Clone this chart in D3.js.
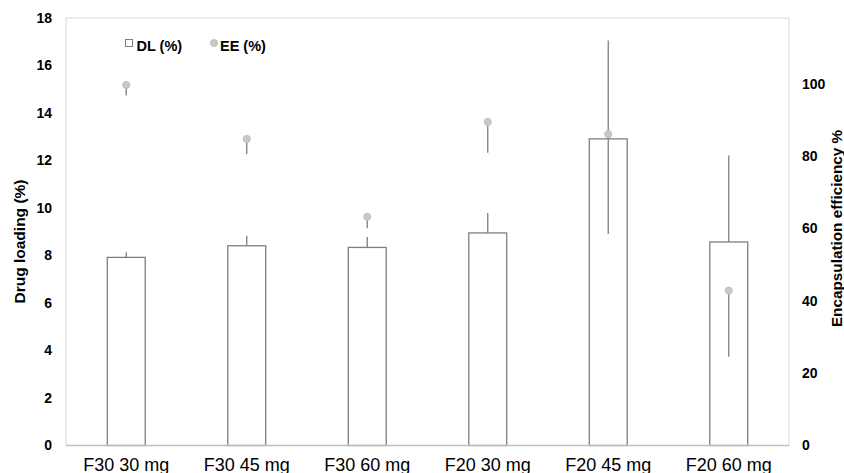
<!DOCTYPE html>
<html>
<head>
<meta charset="utf-8">
<script src="https://cdn.jsdelivr.net/npm/d3@7"></script>
<style>
	body { margin:0; background:#fff; }
	text { font-family: "Liberation Sans", Arial, sans-serif; }
</style>
</head>
<body>
<svg id="chart" width="844" height="473"></svg>
<script>
//data
var categories = ["F30 30 mg","F30 45 mg","F30 60 mg","F20 30 mg","F20 45 mg","F20 60 mg"];
var dlValues = [7.92, 8.41, 8.34, 8.95, 12.91, 8.57];
var dlErrors = [0.22, 0.42, 0.44, 0.84, 4.14, 3.64];
var eeValues = [99.6, 84.7, 63.2, 89.4, 86.0, 42.8];
var eeErrors = [2.9, 4.2, 3.2, 8.5, 27.6, 18.3];
var leftTicks = [0,2,4,6,8,10,12,14,16,18];
var rightTicks = [0,20,40,60,80,100];

var margin = {top: 18, right: 55, bottom: 27.5, left: 66};
var width = 844 - margin.left - margin.right;
var height = 473 - margin.top - margin.bottom;

var svg = d3.select("#chart");
var g = svg.append("g").attr("transform","translate("+margin.left+","+margin.top+")");

var x = d3.scaleBand().domain(categories).range([0,width]).paddingInner(0.685).paddingOuter(0.3425);
var yLeft = d3.scaleLinear().domain([0,18]).range([height,0]);
var yRight = d3.scaleLinear().domain([0,118.1]).range([height,0]);

//plot area border
g.append("rect")
	.attr("x",0).attr("y",0).attr("width",width).attr("height",height)
	.attr("fill","none").attr("stroke","#d9d9d9").attr("stroke-width",1);

//bars (DL), plus error bars only
var cx = function(d,i) { return x(categories[i]) + x.bandwidth()/2; };
g.selectAll(".dl-err").data(dlValues).enter().append("line")
	.attr("x1",cx).attr("x2",cx)
	.attr("y1",function(d){ return yLeft(d); })
	.attr("y2",function(d,i){ return yLeft(d+dlErrors[i]); })
	.attr("stroke","#7f7f7f").attr("stroke-width",1.3);

g.selectAll(".bar").data(dlValues).enter().append("rect")
	.attr("x",function(d,i){ return x(categories[i]); })
	.attr("y",function(d){ return yLeft(d); })
	.attr("width",x.bandwidth())
	.attr("height",function(d){ return height - yLeft(d); })
	.attr("fill","#fff").attr("stroke","#7f7f7f").attr("stroke-width",1.3);

//points (EE), minus error bars only
g.selectAll(".ee-err").data(eeValues).enter().append("line")
	.attr("x1",cx).attr("x2",cx)
	.attr("y1",function(d){ return yRight(d); })
	.attr("y2",function(d,i){ return yRight(d-eeErrors[i]); })
	.attr("stroke","#7f7f7f").attr("stroke-width",1.3);

g.selectAll(".ee").data(eeValues).enter().append("circle")
	.attr("cx",cx)
	.attr("cy",function(d){ return yRight(d); })
	.attr("r",3.6)
	.attr("fill","#c8c8c8").attr("stroke","#bdbdbd").attr("stroke-width",0.8);

//bottom axis line
g.append("line").attr("x1",0).attr("x2",width).attr("y1",height).attr("y2",height)
	.attr("stroke","#bfbfbf").attr("stroke-width",1.3);

//axes
var xAxis = g.append("g").attr("transform","translate(0,"+height+")")
	.call(d3.axisBottom(x).tickSize(0).tickPadding(13));
xAxis.select(".domain").remove();
xAxis.selectAll("text").attr("font-size","18px").attr("fill","#000")
	.style("font-family","'Liberation Sans', Arial, sans-serif");

var lAxis = g.append("g").call(d3.axisLeft(yLeft).tickValues(leftTicks).tickSize(0).tickPadding(14));
lAxis.select(".domain").remove();
lAxis.selectAll("text").attr("font-size","14px").attr("font-weight","bold").attr("fill","#000")
	.style("font-family","'Liberation Sans', Arial, sans-serif");

var rAxis = g.append("g").attr("transform","translate("+width+",0)")
	.call(d3.axisRight(yRight).tickValues(rightTicks).tickSize(0).tickPadding(13));
rAxis.select(".domain").remove();
rAxis.selectAll("text").attr("font-size","14px").attr("font-weight","bold").attr("fill","#000")
	.style("font-family","'Liberation Sans', Arial, sans-serif");

//axis titles
svg.append("text")
	.attr("transform","translate(24.5,241.5) rotate(-90)")
	.attr("text-anchor","middle").attr("font-size","15.5px").attr("font-weight","bold")
	.text("Drug loading (%)");
svg.append("text")
	.attr("transform","translate(842,228.5) rotate(-90)")
	.attr("text-anchor","middle").attr("font-size","15.3px").attr("font-weight","bold")
	.text("Encapsulation efficiency %");

//legend
var legend = svg.append("g");
legend.append("rect").attr("x",125.5).attr("y",39.5).attr("width",7).attr("height",7)
	.attr("fill","#fff").attr("stroke","#7f7f7f").attr("stroke-width",1);
legend.append("text").attr("x",136.5).attr("y",50.5).attr("font-size","14.5px").attr("font-weight","bold")
	.text("DL (%)");
legend.append("circle").attr("cx",214).attr("cy",43).attr("r",3.6)
	.attr("fill","#c8c8c8").attr("stroke","#bdbdbd").attr("stroke-width",0.8);
legend.append("text").attr("x",220).attr("y",50.5).attr("font-size","14.5px").attr("font-weight","bold")
	.text("EE (%)");
</script>
</body>
</html>
